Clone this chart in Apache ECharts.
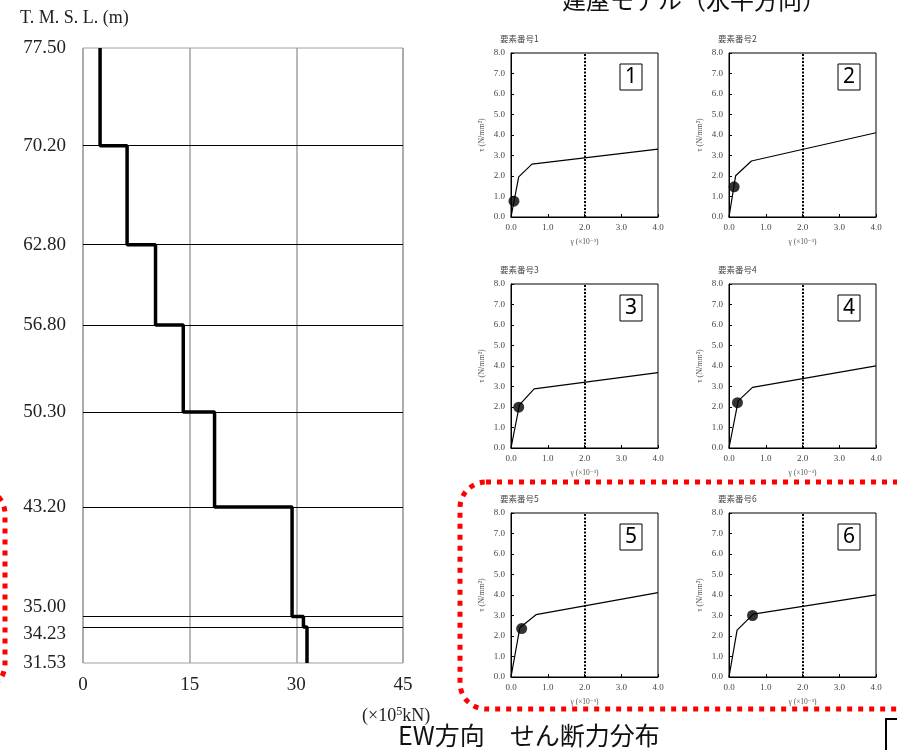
<!DOCTYPE html>
<html><head><meta charset="utf-8">
<script src="https://cdn.jsdelivr.net/npm/echarts@6/dist/echarts.min.js"></script>
<style>html,body{margin:0;padding:0;background:#fff}#c{width:897px;height:750px}</style>
</head><body><div id="c"></div>
<script>
// ---- Left chart data: shear force distribution (x10^5 kN) by elevation T.M.S.L. (m)
const levels = [77.50, 70.20, 62.80, 56.80, 50.30, 43.20, 35.00, 34.23, 31.53];
const shear = [2.4, 6.2, 10.2, 14.1, 18.5, 29.4, 31.0, 31.5];
const xTicks = [0, 15, 30, 45];

// ---- Right charts: skeleton curves (gamma x10^-3, tau N/mm2) and response points
const elemNames = ['要素番号1', '要素番号2', '要素番号3', '要素番号4', '要素番号5', '要素番号6'];
const gamma1 = [0, 0.21, 0.57, 4.0], tau1 = [0, 1.96, 2.58, 3.31];
const gamma2 = [0, 0.18, 0.61, 4.0], tau2 = [0, 2.01, 2.73, 4.11];
const gamma3 = [0, 0.23, 0.63, 4.0], tau3 = [0, 2.10, 2.88, 3.68];
const gamma4 = [0, 0.25, 0.64, 4.0], tau4 = [0, 2.30, 2.96, 4.01];
const gamma5 = [0, 0.24, 0.68, 4.0], tau5 = [0, 2.40, 3.04, 4.12];
const gamma6 = [0, 0.22, 0.66, 4.0], tau6 = [0, 2.29, 3.07, 4.01];
const pointGamma = [0.08, 0.14, 0.21, 0.23, 0.29, 0.64];
const pointTau = [0.77, 1.47, 1.99, 2.21, 2.36, 3.00];
const limitGamma = 2.0;

const gammas = [gamma1, gamma2, gamma3, gamma4, gamma5, gamma6];
const taus = [tau1, tau2, tau3, tau4, tau5, tau6];

const chart = echarts.init(document.getElementById('c'));
const serif = '"Liberation Serif","DejaVu Serif",serif';
const jp = '"Noto Sans CJK JP","Noto Sans",sans-serif';

// step line points
const stepData = [];
for (let i = 0; i < shear.length; i++) {
  stepData.push([shear[i], levels[i]]);
  stepData.push([shear[i], levels[i + 1]]);
}

const grids = [{ left: 83, top: 48, width: 320, height: 615, show: true, borderColor: '#a0a0a0', borderWidth: 1 }];
const xAxes = [{
  gridIndex: 0, type: 'value', min: xTicks[0], max: xTicks[xTicks.length - 1], interval: 15,
  axisLine: { show: false }, axisTick: { show: false },
  splitLine: { show: true, lineStyle: { color: '#a0a0a0', width: 1.5 } },
  axisLabel: { fontFamily: serif, fontSize: 19, color: '#222', margin: 13 }
}];
const yAxes = [{
  gridIndex: 0, type: 'value', min: levels[levels.length - 1], max: levels[0],
  axisLine: { show: false }, axisTick: { show: false }, splitLine: { show: false },
  axisLabel: {
    customValues: levels,
    formatter: v => {
      const s = v.toFixed(2);
      if (Math.abs(v - 35.0) < 1e-6) return '{up|' + s + '}';
      if (Math.abs(v - 34.23) < 1e-6) return '{dn|' + s + '}';
      return '{n|' + s + '}';
    },
    margin: 17,
    rich: {
      n: { fontFamily: serif, fontSize: 19, color: '#222' },
      up: { fontFamily: serif, fontSize: 19, color: '#222', padding: [0, 0, 19, 0] },
      dn: { fontFamily: serif, fontSize: 19, color: '#222', padding: [14, 0, 0, 0] }
    }
  }
}];
const series = [{
  type: 'line', xAxisIndex: 0, yAxisIndex: 0, data: stepData, symbol: 'none',
  lineStyle: { color: '#000', width: 3.5 }, z: 5,
  markLine: {
    silent: true, symbol: 'none', label: { show: false },
    lineStyle: { color: '#000', width: 1, type: 'solid' },
    data: levels.slice(1, levels.length - 1).map(v => ({ yAxis: v }))
  }
}];

const colLeft = [511, 729], rowTop = [53, 284, 513], gw = 147, gh = 164;
const titles = [];
const graphics = [];
for (let k = 0; k < 6; k++) {
  const gl = colLeft[k % 2], gt = rowTop[Math.floor(k / 2)];
  const gi = k + 1;
  grids.push({ left: gl, top: gt, width: gw, height: gh, show: true, borderColor: '#000', borderWidth: 1 });
  xAxes.push({
    gridIndex: gi, type: 'value', min: 0, max: 4, interval: 1,
    name: 'γ (×10⁻³)', nameLocation: 'middle', nameGap: 21,
    nameTextStyle: { fontFamily: serif, fontSize: 7.5, color: '#555' },
    axisLine: { lineStyle: { color: '#000' } },
    axisTick: { inside: true, length: 3, lineStyle: { color: '#000' } },
    splitLine: { show: false },
    axisLabel: { formatter: v => v.toFixed(1), fontFamily: serif, fontSize: 9, color: '#444', margin: 6 }
  });
  yAxes.push({
    gridIndex: gi, type: 'value', min: 0, max: 8, interval: 1,
    name: 'τ (N/mm²)', nameLocation: 'middle', nameGap: 25, nameRotate: 90,
    nameTextStyle: { fontFamily: serif, fontSize: 8, color: '#555' },
    axisLine: { lineStyle: { color: '#000' } },
    axisTick: { inside: true, length: 3, lineStyle: { color: '#000' } },
    splitLine: { show: false },
    axisLabel: { formatter: v => v.toFixed(1), fontFamily: serif, fontSize: 9, color: '#444', margin: 6 }
  });
  series.push({
    type: 'line', xAxisIndex: gi, yAxisIndex: gi, symbol: 'none',
    data: gammas[k].map((g, j) => [g, taus[k][j]]),
    lineStyle: { color: '#000', width: 1.2 },
    markLine: {
      silent: true, symbol: 'none', label: { show: false },
      lineStyle: { color: '#000', width: 2, type: [2, 1.5] },
      data: [{ xAxis: limitGamma }]
    }
  });
  series.push({
    type: 'scatter', xAxisIndex: gi, yAxisIndex: gi, symbol: 'circle', symbolSize: 11,
    itemStyle: { color: '#000' }, data: [[pointGamma[k], pointTau[k]]], z: 6
  });
  titles.push({ text: elemNames[k], left: gl - 11, top: gt - 18, textStyle: { fontFamily: jp, fontSize: 8.5, fontWeight: 'normal', color: '#444' }, padding: 0 });
  graphics.push({
    type: 'rect', shape: { x: gl + gw - 38, y: gt + 11, width: 22, height: 26 },
    style: { fill: '#fff', stroke: '#000', lineWidth: 1 }, z: 10
  });
  graphics.push({
    type: 'text', x: gl + gw - 27, y: gt + 24,
    style: { text: String(k + 1), font: '21px "Noto Sans", sans-serif', fill: '#000', align: 'center', verticalAlign: 'middle' }, z: 11
  });
}

// Texts
titles.push({ text: '建屋モデル（水平方向）', left: 562, top: -12, textStyle: { fontFamily: jp, fontSize: 24, fontWeight: 'normal', color: '#111' }, padding: 0 });
titles.push({ text: 'EW方向　せん断力分布', left: 398, top: 723, textStyle: { fontFamily: jp, fontSize: 25, fontWeight: 'normal', color: '#111' }, padding: 0 });
graphics.push({ type: 'text', x: 20, y: 18, style: { text: 'T. M. S. L. (m)', font: '18px ' + serif, fill: '#222', verticalAlign: 'middle' } });
graphics.push({
  type: 'text', x: 362, y: 716,
  style: {
    text: '(×10{s|5}kN)', font: '18px ' + serif, fill: '#222', verticalAlign: 'middle',
    rich: { s: { fontSize: 12, fontFamily: serif, verticalAlign: 'top', padding: [0, 0, 8, 0] } }
  }
});
// red dotted rounded frames
graphics.push({ type: 'rect', shape: { x: 460, y: 482, width: 470, height: 227, r: 26 }, style: { fill: 'none', stroke: '#ff0000', lineWidth: 5, lineDash: [5, 6] }, z: 20 });
graphics.push({ type: 'rect', shape: { x: -300, y: 488, width: 305, height: 202, r: 26 }, style: { fill: 'none', stroke: '#ff0000', lineWidth: 5, lineDash: [5, 6] }, z: 20 });
// black box corner at bottom right
graphics.push({ type: 'rect', shape: { x: 886, y: 719, width: 100, height: 100 }, style: { fill: 'none', stroke: '#000', lineWidth: 2 } });

chart.setOption({
  animation: false,
  backgroundColor: '#fff',
  title: titles,
  grid: grids,
  xAxis: xAxes,
  yAxis: yAxes,
  series: series,
  graphic: graphics
});
</script></body></html>
